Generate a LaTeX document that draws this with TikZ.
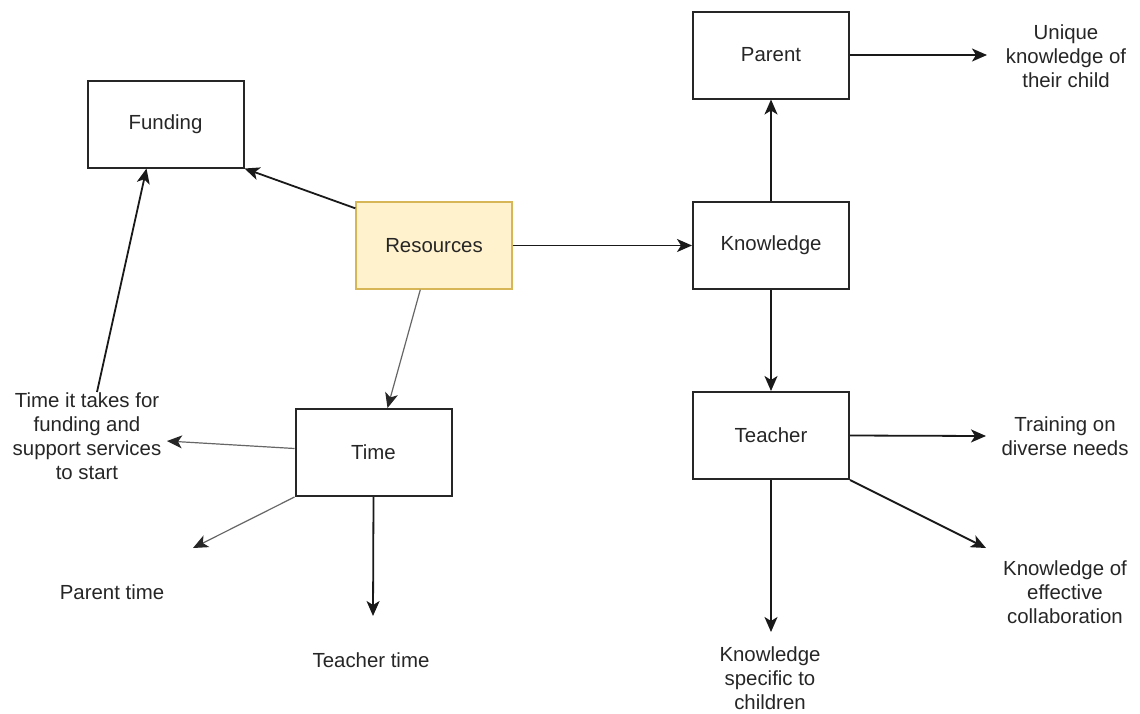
\documentclass[tikz,border=0pt]{standalone}
\usepackage{fontspec}
\setmainfont{Liberation Sans}
\usetikzlibrary{arrows.meta,calc}
\definecolor{txt}{HTML}{262626}
\definecolor{resfill}{HTML}{FFF2CC}
\definecolor{resdraw}{HTML}{D6B656}
\newcommand\fsz{\fontsize{20.4}{24}\selectfont}
\begin{document}
\begin{tikzpicture}[x=1pt,y=-1pt,
 box/.style={draw=black!85, line width=2pt, minimum width=156pt, minimum height=87pt, inner sep=0pt, text=txt, font=\fsz},
 lbl/.style={align=center, text=txt, font=\fsz, inner sep=0pt},
 arr/.style={-{Stealth[length=15pt,width=13pt,inset=4pt]}, line width=1.8pt, draw=black!90},
 garr/.style={-{Stealth[length=15pt,width=13pt,inset=4pt,color=black!85]}, line width=1.2pt, draw=black!60}]
\fill[white] (0,0) rectangle (1140,713);
\useasboundingbox (0,0) rectangle (1140,713);

\node[box] (fund) at (165.5,124) {Funding};
\node[box, fill=resfill, draw=resdraw, line width=1.4pt] (res) at (434,245.5) {Resources};
\node[box] (par) at (771,55) {Parent};
\node[box] (know) at (771,245.5) {Knowledge};
\node[box] (teach) at (771,435.5) {Teacher};
\node[box] (time) at (373.5,452.5) {Time};

\node[lbl] (luk) at (1066,56) {Unique\\knowledge of\\their child};
\node[lbl] (ltr) at (1065,436) {Training on\\diverse needs};
\node[lbl] (lco) at (1065,592) {Knowledge of\\effective\\collaboration};
\node[lbl] (lks) at (770,678) {Knowledge\\specific to\\children};
\node[lbl] (ltt) at (371,660) {Teacher time};
\node[lbl] (lpt) at (112,592) {Parent time};
\node[lbl] (lti) at (87,436) {Time it takes for\\funding and\\support services\\to start};

\coordinate (uk) at (987,55);
\coordinate (tr) at (986,436);
\coordinate (co) at (986,548);
\coordinate (ks) at (771,632);
\coordinate (tt) at (373,616);
\coordinate (pt) at (193,548);
\coordinate (ti) at (167,441);
\coordinate (tf) at (97,392);

\draw[arr] ($(res.north west)+(0,7)$) -- (fund.south east);
\draw[arr] (tf) -- ($(fund.south west)+(60,0)$);
\draw[arr] (res.east) -- (know.west);
\draw[garr] ($(res.south west)+(65,0)$) -- ($(time.north west)+(93,0)$);
\draw[arr] (know.north) -- (par.south);
\draw[arr] (know.south) -- (teach.north);
\draw[arr] (par.east) -- (uk);
\draw[arr] (teach.east) -- (tr);
\draw[arr] (teach.south east) -- (co);
\draw[arr] (teach.south) -- (ks);
\draw[garr] ($(time.west)+(0,-4)$) -- (ti);
\draw[garr] (time.south west) -- (pt);
\draw[arr] (time.south) -- (tt);
\end{tikzpicture}
\end{document}
